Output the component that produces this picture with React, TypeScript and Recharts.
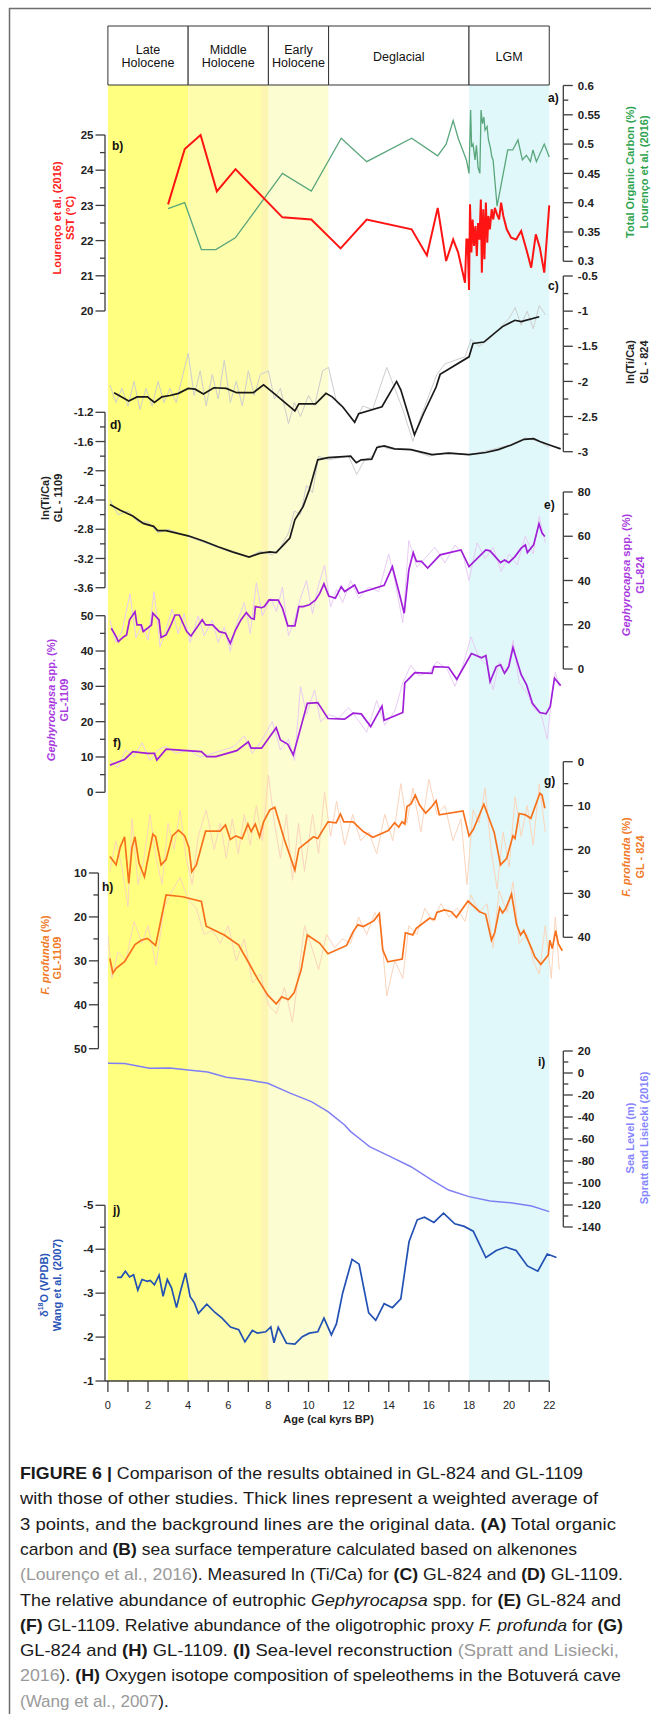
import React from 'react';
import { ComposedChart, Line, XAxis, YAxis, ReferenceArea, ReferenceLine } from 'recharts';

type Pt = [number, number];

// ---------- data: [age (cal kyr BP), value] ----------
const toc: Pt[] = [
  [3.0, 0.39], [3.83, 0.4], [4.66, 0.32], [5.38, 0.32], [6.35, 0.34], [8.7, 0.45], [10.14, 0.42], [11.63, 0.51],
  [12.9, 0.47], [15.14, 0.51], [16.44, 0.48], [16.86, 0.5], [17.21, 0.54], [17.46, 0.51], [17.87, 0.473], [18.0, 0.45],
  [18.08, 0.558], [18.13, 0.495], [18.2, 0.5], [18.3, 0.473], [18.37, 0.498], [18.45, 0.46], [18.54, 0.45], [18.6, 0.558],
  [18.67, 0.535], [18.74, 0.546], [18.8, 0.524], [18.9, 0.53], [18.97, 0.507], [19.06, 0.495], [19.14, 0.478], [19.2, 0.473],
  [19.4, 0.394], [19.93, 0.49], [20.18, 0.49], [20.44, 0.507], [20.66, 0.473], [20.86, 0.481], [21.06, 0.47], [21.19, 0.49],
  [21.36, 0.47], [21.75, 0.5], [22.0, 0.478],
];
const sst: Pt[] = [
  [3.0, 23.03], [3.83, 24.6], [4.62, 25.0], [5.43, 23.4], [6.36, 24.03], [8.7, 22.66], [10.14, 22.6], [11.6, 21.78],
  [12.9, 22.6], [15.14, 22.32], [15.9, 21.58], [16.44, 22.93], [16.86, 21.42], [17.21, 22.03], [17.46, 21.66], [17.8, 20.8],
  [17.87, 22.03], [17.93, 22.03], [18.0, 20.6], [18.05, 23.03], [18.12, 21.66], [18.18, 22.6], [18.25, 21.85], [18.32, 22.41],
  [18.39, 21.56], [18.45, 22.5], [18.52, 22.03], [18.59, 23.17], [18.64, 21.09], [18.71, 22.89], [18.77, 21.47], [18.84, 23.08],
  [18.91, 21.94], [18.97, 22.7], [19.04, 22.32], [19.13, 22.89], [19.21, 22.6], [19.29, 22.93], [19.4, 22.74], [19.5, 22.6],
  [19.6, 23.08], [19.71, 22.7], [19.88, 22.32], [20.1, 22.08], [20.35, 22.03], [20.6, 22.27], [20.86, 21.75], [21.1, 21.23],
  [21.33, 22.18], [21.53, 21.8], [21.75, 21.09], [22.0, 23.0],
];
const tiCa824: Pt[] = [
  [0.31, -2.16], [1.04, -2.28], [1.45, -2.22], [1.97, -2.22], [2.32, -2.3], [2.69, -2.22], [3.1, -2.2], [3.52, -2.17],
  [4.0, -2.1], [4.35, -2.11], [4.76, -2.18], [5.28, -2.09], [5.9, -2.1], [6.42, -2.16], [7.25, -2.16], [7.76, -2.05],
  [8.28, -2.17], [9.32, -2.42], [9.52, -2.32], [10.35, -2.32], [10.87, -2.17], [11.18, -2.22], [11.7, -2.36], [12.3, -2.58],
  [12.5, -2.46], [13.66, -2.36], [14.39, -2.0], [14.6, -2.12], [15.28, -2.76], [15.73, -2.46], [16.36, -2.08], [16.56, -1.9],
  [18.0, -1.65], [18.2, -1.46], [18.74, -1.44], [19.67, -1.22], [20.29, -1.13], [20.6, -1.15], [21.5, -1.08],
];
const tiCa824Raw: Pt[] = [
  [0.1, -2.05], [0.4, -2.3], [0.7, -2.1], [1.0, -2.35], [1.3, -2.0], [1.6, -2.4], [1.9, -2.1], [2.2, -2.35], [2.5, -2.0],
  [2.8, -2.3], [3.1, -2.1], [3.4, -2.3], [3.7, -1.95], [4.0, -1.6], [4.3, -2.2], [4.6, -1.85], [4.9, -2.35], [5.2, -1.9],
  [5.5, -2.25], [5.8, -1.7], [6.1, -2.3], [6.4, -2.0], [6.7, -2.35], [7.0, -1.85], [7.3, -2.2], [7.6, -1.9], [8.0, -1.85],
  [8.3, -2.25], [8.6, -2.1], [9.0, -2.6], [9.3, -2.3], [9.6, -2.5], [10.0, -2.2], [10.3, -2.35], [10.7, -1.85], [11.0, -1.8],
  [11.4, -2.3], [11.8, -2.4], [12.3, -2.6], [12.7, -2.35], [13.2, -2.4], [13.6, -2.05], [13.9, -1.8], [14.3, -2.1],
  [14.7, -2.4], [15.2, -2.85], [15.6, -2.5], [16.0, -2.2], [16.4, -1.9], [16.8, -1.75], [17.3, -1.7], [17.8, -1.65],
  [18.1, -1.4], [18.5, -1.5], [19.0, -1.4], [19.5, -1.25], [20.0, -1.1], [20.3, -0.95], [20.6, -1.2], [20.9, -1.0],
  [21.2, -1.25], [21.5, -0.92], [21.8, -1.05],
];
const tiCa1109: Pt[] = [
  [0.1, -2.46], [0.62, -2.54], [1.24, -2.62], [1.76, -2.72], [2.28, -2.76], [2.48, -2.82], [2.9, -2.82], [4.0, -2.89],
  [4.76, -2.96], [5.49, -3.04], [6.21, -3.11], [7.04, -3.18], [7.56, -3.13], [8.07, -3.11], [8.39, -3.12], [8.8, -3.0],
  [9.07, -2.92], [9.32, -2.67], [9.73, -2.49], [10.04, -2.26], [10.46, -1.85], [10.97, -1.82], [12.1, -1.8], [12.38, -1.89],
  [12.63, -1.85], [13.15, -1.84], [13.41, -1.68], [13.77, -1.66], [14.29, -1.7], [15.11, -1.71], [16.15, -1.78],
  [16.98, -1.76], [18.0, -1.78], [18.84, -1.75], [19.46, -1.71], [20.08, -1.65], [20.75, -1.57], [21.22, -1.56],
  [21.53, -1.6], [22.05, -1.65], [22.57, -1.7],
];
const tiCa1109Raw: Pt[] = [
  [0.1, -2.4], [0.5, -2.6], [1.0, -2.55], [1.5, -2.7], [2.0, -2.7], [2.5, -2.85], [3.0, -2.8], [4.0, -2.9], [5.0, -3.0],
  [6.0, -3.1], [7.0, -3.18], [7.6, -3.1], [8.2, -3.15], [8.6, -3.05], [9.0, -2.85], [9.3, -2.55], [9.6, -2.6], [9.9, -2.2],
  [10.2, -2.3], [10.5, -1.8], [11.0, -1.85], [12.0, -1.8], [12.4, -2.05], [12.8, -1.85], [13.2, -1.8], [13.5, -1.65],
  [14.0, -1.7], [15.0, -1.7], [16.0, -1.8], [17.0, -1.75], [18.0, -1.78], [19.0, -1.72], [20.0, -1.65], [20.8, -1.55],
  [21.5, -1.6], [22.0, -1.68],
];
const geph824: Pt[] = [
  [0.17, 18.4], [0.41, 14.6], [0.52, 12.4], [0.79, 14.6], [0.93, 15.4], [1.08, 22.2], [1.35, 25.9], [1.45, 19.9],
  [1.66, 19.9], [1.76, 16.9], [1.97, 18.4], [2.17, 19.9], [2.24, 25.2], [2.55, 22.2], [2.65, 14.3], [2.9, 15.4], [3.1, 19.1],
  [3.35, 24.4], [3.56, 24.4], [3.93, 16.9], [4.14, 14.9], [4.35, 17.6], [4.7, 22.2], [4.87, 19.9], [5.22, 19.9], [5.55, 16.9],
  [5.86, 16.2], [6.1, 11.6], [6.36, 17.6], [6.63, 22.2], [6.9, 25.5], [7.14, 22.9], [7.29, 22.5], [7.35, 28.2], [7.66, 27.7],
  [7.8, 28.2], [8.03, 31.2], [8.49, 31.1], [8.7, 27.5], [8.97, 19.5], [9.32, 19.5], [9.52, 28.2], [9.73, 28.2], [10.04, 29],
  [10.35, 31.2], [10.56, 34.2], [10.77, 38.5], [11.01, 33], [11.34, 32], [11.63, 37.2], [11.8, 35], [12.3, 38], [12.5, 34.2],
  [13.77, 37.8], [14.18, 46.3], [14.5, 35], [14.77, 25.2], [15.0, 44.8], [15.22, 52.6], [15.38, 48.6], [15.63, 48.6],
  [15.94, 45.6], [16.56, 51.6], [17.6, 53.8], [18.0, 46.3], [18.84, 53.8], [19.05, 53.4], [19.57, 48.1], [19.77, 49.3],
  [19.98, 48.1], [20.29, 50.8], [20.6, 54.6], [20.81, 56.1], [20.91, 52.6], [21.22, 56.1], [21.49, 65.6], [21.64, 61.4],
  [21.78, 59.9],
];
const geph824Raw: Pt[] = [
  [0.1, 22], [0.4, 12], [0.7, 17], [1.1, 34], [1.4, 14], [1.7, 20], [2.0, 13], [2.3, 35], [2.6, 10], [2.9, 18], [3.2, 27],
  [3.5, 16], [3.8, 25], [4.1, 12], [4.5, 24], [4.8, 15], [5.2, 22], [5.5, 12], [5.8, 19], [6.1, 8], [6.4, 20], [6.8, 30],
  [7.1, 16], [7.4, 39], [7.7, 24], [8.1, 32], [8.4, 26], [8.7, 37], [9.0, 15], [9.3, 22], [9.6, 32], [9.9, 40], [10.2, 25],
  [10.5, 38], [10.8, 47], [11.1, 28], [11.4, 36], [11.7, 30], [12.1, 40], [12.5, 32], [13.0, 37], [13.5, 35], [14.0, 52],
  [14.3, 40], [14.7, 21], [15.0, 58], [15.4, 46], [15.8, 50], [16.3, 55], [16.8, 48], [17.3, 56], [17.7, 52], [18.0, 40],
  [18.4, 57], [18.8, 50], [19.2, 55], [19.6, 44], [20.0, 52], [20.4, 47], [20.8, 60], [21.2, 52], [21.5, 69], [21.8, 57],
];
const geph1109: Pt[] = [
  [0.1, 7.7], [0.83, 9.3], [1.24, 11.5], [1.97, 11.0], [2.32, 11.0], [2.44, 9.1], [2.9, 12.2], [3.93, 11.8], [4.66, 11.5],
  [4.93, 10.1], [5.38, 10.1], [6.42, 11.8], [7.0, 14.3], [7.14, 12.5], [7.66, 12.5], [8.39, 18.3], [8.6, 14.8], [8.97, 13.6],
  [9.24, 10.6], [9.52, 16.4], [9.94, 25.2], [10.46, 25.4], [10.97, 20.9], [11.8, 20.7], [12.22, 22.4], [12.63, 22.2],
  [13.1, 18.6], [13.66, 24.4], [13.77, 20.4], [14.7, 22.6], [14.8, 31], [15.3, 33.9], [16.15, 33.7], [16.25, 35.6],
  [16.98, 35.4], [17.39, 32], [18.12, 39.3], [18.63, 38.1], [18.84, 38.7], [19.05, 31.3], [19.36, 35.6], [19.57, 36.1],
  [19.77, 33.7], [19.98, 35.6], [20.19, 41], [20.6, 33.3], [20.87, 30.4], [21.16, 25.2], [21.53, 22.6], [21.84, 22.2],
  [22.05, 24.3], [22.26, 32.3], [22.57, 30.2],
];
const geph1109Raw: Pt[] = [
  [0.1, 9], [0.5, 7], [0.9, 12], [1.3, 10], [1.7, 14], [2.1, 9], [2.5, 12], [2.9, 13], [3.4, 11], [4.0, 12], [4.6, 10],
  [5.2, 11], [5.8, 12], [6.3, 13], [6.8, 16], [7.2, 11], [7.7, 15], [8.2, 20], [8.6, 12], [9.0, 15], [9.3, 9], [9.6, 30],
  [9.9, 22], [10.3, 29], [10.6, 20], [11.0, 22], [11.5, 21], [12.0, 24], [12.4, 21], [12.9, 17], [13.4, 26], [13.8, 19],
  [14.3, 23], [14.7, 31], [15.1, 36], [15.5, 33], [16.0, 34], [16.4, 37], [16.9, 35], [17.3, 30], [17.7, 36], [18.1, 44],
  [18.5, 38], [18.9, 36], [19.2, 29], [19.5, 37], [19.9, 34], [20.2, 43], [20.5, 31], [20.9, 28], [21.2, 24], [21.6, 22],
  [21.9, 15], [22.1, 26], [22.3, 34], [22.5, 30],
];
const prof824: Pt[] = [
  [0.1, 21.6], [0.41, 23.5], [0.62, 19.4], [0.83, 17.1], [1.04, 27.7], [1.2, 19.6], [1.35, 17.1], [1.55, 23.1], [1.82, 26.2],
  [2.24, 16.5], [2.38, 17.1], [2.65, 23.5], [2.9, 22.3], [3.21, 16.9], [3.52, 15.6], [3.83, 16.9], [4.04, 19.6], [4.18, 25.1],
  [4.41, 23.5], [4.87, 15.8], [5.59, 15.8], [5.86, 14.4], [6.1, 17.7], [6.38, 16.9], [6.69, 17.5], [6.98, 14.2], [7.14, 15.9],
  [7.35, 14.2], [7.56, 17.1], [7.76, 13.7], [8.07, 11.0], [8.32, 10.4], [8.8, 17.8], [9.32, 24.7], [9.52, 19.8], [10.25, 17.1],
  [10.46, 17.5], [10.97, 13.7], [11.38, 13.9], [11.59, 11.9], [11.76, 13.7], [12.22, 13.7], [12.73, 15.9], [13.21, 17.2],
  [13.98, 15.7], [14.29, 13.9], [14.5, 14.9], [14.66, 13.7], [14.8, 14.2], [14.91, 10.2], [15.11, 9.6], [15.32, 7.6],
  [15.53, 9.8], [15.84, 11.7], [16.15, 10.2], [16.36, 8.9], [16.52, 12.1], [17.7, 11.2], [18.0, 16.9], [18.22, 15.4],
  [18.74, 9.7], [19.26, 16.2], [19.57, 23.5], [19.88, 22.0], [20.19, 16.9], [20.29, 17.5], [20.5, 11.8], [20.81, 12.1],
  [21.08, 12.9], [21.53, 7.2], [21.64, 7.6], [21.78, 10.6],
];
const prof824Raw: Pt[] = [
  [0.1, 25], [0.4, 18], [0.7, 24], [1.0, 33], [1.2, 13], [1.5, 28], [1.8, 22], [2.1, 12], [2.4, 22], [2.7, 28], [3.0, 14],
  [3.3, 20], [3.6, 11], [3.9, 22], [4.2, 28], [4.5, 17], [4.9, 11], [5.3, 20], [5.6, 14], [5.9, 22], [6.2, 13], [6.5, 21],
  [6.8, 12], [7.1, 19], [7.4, 10], [7.7, 18], [8.0, 3], [8.3, 14], [8.6, 22], [8.9, 12], [9.2, 27], [9.5, 14], [9.8, 25],
  [10.2, 12], [10.5, 21], [10.8, 7], [11.1, 17], [11.4, 9], [11.8, 19], [12.2, 12], [12.6, 18], [13.0, 16], [13.4, 21],
  [13.8, 12], [14.2, 18], [14.6, 5], [14.9, 14], [15.2, 6], [15.6, 16], [16.0, 4], [16.4, 12], [16.8, 10], [17.2, 18],
  [17.6, 13], [17.9, 28], [18.2, 11], [18.5, 14], [18.8, 6], [19.1, 20], [19.4, 29], [19.7, 16], [20.0, 24], [20.3, 8],
  [20.6, 17], [20.9, 10], [21.2, 19], [21.5, 5], [21.8, 16],
];
const prof1109: Pt[] = [
  [0.1, 29.5], [0.25, 32.8], [0.41, 31.7], [0.83, 30.2], [1.35, 26.3], [1.66, 25.3], [1.97, 24.9], [2.38, 26.5], [2.9, 15],
  [3.73, 15.4], [4.66, 16.5], [4.9, 22.1], [5.8, 24.1], [6.52, 26.4], [7.04, 30.6], [7.45, 34], [7.97, 37.8], [8.39, 39.8],
  [8.66, 38.2], [9.0, 38.8], [9.28, 37.3], [9.63, 32.1], [9.94, 24.1], [10.56, 26.0], [10.97, 28.4], [11.9, 26.5],
  [12.22, 23.4], [12.46, 21.8], [12.73, 22.2], [13.25, 20.9], [13.53, 19.2], [13.7, 27.5], [13.95, 30.2], [14.67, 29.6],
  [14.83, 23.6], [15.2, 24.1], [15.37, 22.6], [16.03, 20.3], [16.28, 20.6], [16.4, 19], [16.78, 18.4], [17.12, 18.8],
  [17.37, 20.1], [17.95, 16.4], [18.53, 18.8], [18.83, 19.4], [19.12, 25.3], [19.28, 23.6], [19.53, 17.9], [19.67, 19.1],
  [19.83, 18.1], [20.12, 14.8], [20.37, 21.7], [20.57, 24.1], [20.73, 23.1], [21.12, 27.2], [21.28, 29.1], [21.58, 30.8],
  [21.95, 28.7], [22.03, 25.3], [22.15, 27.2], [22.32, 23.1], [22.45, 26.1], [22.65, 27.7],
];
const prof1109Raw: Pt[] = [
  [0.0, 24], [0.2, 34], [0.5, 28], [0.9, 30], [1.3, 21], [1.7, 26], [2.0, 22], [2.4, 31], [2.8, 18], [3.2, 14], [3.6, 11],
  [4.0, 16], [4.4, 18], [4.8, 24], [5.2, 23], [5.6, 26], [6.0, 22], [6.4, 30], [6.8, 25], [7.2, 35], [7.6, 33], [8.0, 40],
  [8.4, 42], [8.8, 36], [9.2, 44], [9.5, 33], [9.8, 22], [10.1, 26], [10.5, 32], [10.9, 24], [11.3, 27], [11.7, 25],
  [12.1, 26], [12.5, 20], [12.9, 24], [13.3, 19], [13.6, 22], [13.9, 38], [14.3, 30], [14.7, 34], [15.0, 22], [15.4, 24],
  [15.8, 18], [16.2, 21], [16.6, 17], [17.0, 20], [17.4, 18], [17.8, 21], [18.1, 15], [18.5, 19], [18.9, 17], [19.2, 27],
  [19.5, 14], [19.9, 19], [20.2, 12], [20.5, 26], [20.9, 24], [21.2, 30], [21.5, 33], [21.8, 22], [22.1, 34], [22.3, 20],
  [22.5, 32],
];
const seaLevel: Pt[] = [
  [0, 8.8], [0.83, 8.6], [2.07, 4.3], [3.1, 4.5], [4.0, 2.7], [4.97, 0.9], [5.9, -3.9], [7.04, -6.4], [7.97, -9.4],
  [9.11, -18.5], [10.14, -26], [10.97, -35.2], [11.8, -47.3], [12.1, -53.3], [12.63, -60.9], [13.04, -67], [14.08, -76],
  [15.11, -85.2], [16.15, -97.3], [16.98, -106.4], [18.0, -112.4], [19.05, -116.4], [20.08, -118], [21.12, -121], [22.0, -126],
];
const d18O: Pt[] = [
  [0.46, -3.36], [0.66, -3.36], [0.87, -3.5], [1.08, -3.37], [1.28, -3.42], [1.49, -3.07], [1.7, -3.31], [1.97, -3.27],
  [2.11, -3.29], [2.32, -3.19], [2.55, -3.41], [2.75, -2.93], [2.96, -3.31], [3.17, -3.12], [3.42, -2.67], [3.62, -3.05],
  [3.87, -3.46], [4.1, -2.92], [4.31, -2.78], [4.51, -2.54], [4.93, -2.75], [5.34, -2.56], [5.69, -2.43], [6.11, -2.23],
  [6.52, -2.17], [6.83, -1.89], [7.2, -2.15], [7.45, -2.09], [7.87, -2.12], [8.12, -2.23], [8.28, -1.87], [8.49, -2.22],
  [8.9, -1.86], [9.32, -1.84], [9.69, -2.01], [10.04, -2.09], [10.46, -2.12], [10.77, -2.43], [11.14, -2.05], [11.39, -2.3],
  [11.7, -3.0], [12.17, -3.77], [12.52, -3.66], [13.0, -2.55], [13.35, -2.38], [13.77, -2.76], [14.18, -2.67], [14.6, -2.87],
  [15.01, -4.17], [15.42, -4.67], [15.78, -4.73], [16.25, -4.61], [16.73, -4.82], [17.29, -4.58], [17.76, -4.52],
  [18.21, -4.41], [18.84, -3.81], [19.36, -3.97], [19.83, -4.05], [20.35, -3.97], [20.91, -3.62], [21.43, -3.5],
  [21.9, -3.89], [22.36, -3.81],
];

const periodNames = [['Late', 'Holocene'], ['Middle', 'Holocene'], ['Early', 'Holocene'], ['Deglacial'], ['LGM']];
const periodEdges = [0, 4, 8, 11, 18, 22];
const xTicks = [0, 1, 2, 3, 4, 5, 6, 7, 8, 9, 10, 11, 12, 13, 14, 15, 16, 17, 18, 19, 20, 21, 22];

const tocTicks = [0.3, 0.325, 0.35, 0.375, 0.4, 0.425, 0.45, 0.475, 0.5, 0.525, 0.55, 0.575, 0.6];
const tocMajor = [0.3, 0.35, 0.4, 0.45, 0.5, 0.55, 0.6];
const sstTicks = [20, 20.5, 21, 21.5, 22, 22.5, 23, 23.5, 24, 24.5, 25];
const sstMajor = [20, 21, 22, 23, 24, 25];
const ti824Ticks = [-3, -2.75, -2.5, -2.25, -2, -1.75, -1.5, -1.25, -1, -0.75, -0.5];
const ti824Major = [-3, -2.5, -2, -1.5, -1, -0.5];
const ti1109Ticks = [-3.6, -3.4, -3.2, -3, -2.8, -2.6, -2.4, -2.2, -2, -1.8, -1.6, -1.4, -1.2];
const ti1109Major = [-3.6, -3.2, -2.8, -2.4, -2, -1.6, -1.2];
const geph824Ticks = [0, 10, 20, 30, 40, 50, 60, 70, 80];
const geph824Major = [0, 20, 40, 60, 80];
const geph1109Ticks = [0, 5, 10, 15, 20, 25, 30, 35, 40, 45, 50];
const geph1109Major = [0, 10, 20, 30, 40, 50];
const prof824Ticks = [0, 5, 10, 15, 20, 25, 30, 35, 40];
const prof824Major = [0, 10, 20, 30, 40];
const prof1109Ticks = [10, 15, 20, 25, 30, 35, 40, 45, 50];
const prof1109Major = [10, 20, 30, 40, 50];
const seaTicks = [-140, -130, -120, -110, -100, -90, -80, -70, -60, -50, -40, -30, -20, -10, 0, 10, 20];
const seaMajor = [-140, -120, -100, -80, -60, -40, -20, 0, 20];
const d18OTicks = [-5, -4.5, -4, -3.5, -3, -2.5, -2, -1.5, -1];
const d18OMajor = [-5, -4, -3, -2, -1];

// ---------- layout ----------
const FONT = '"Liberation Sans", Arial, Helvetica, sans-serif';
const AXIS = '#3c3c3c';
const W = 651;
const H = 1430;
const TOP = 26;
const BOTTOM = 1381;
const PLOT_L = 107.9;
const PLOT_R = 563.3;
const XMAX = 22.7;
const AXW = 0.001;
const PXK = (PLOT_R - PLOT_L) / XMAX;
const kx = (px: number) => (px - PLOT_L) / PXK;
const LEFT_PX = 105;
const LEFT_PX_H = 98.4;

const pts = (a: Pt[]) => a.map(([x, v]) => ({ x, v }));

// domain that puts value v1 at pixel p1 and v2 at p2 over the full plot height
function calDomain(v1: number, p1: number, v2: number, p2: number) {
  const s = (p2 - p1) / (v2 - v1);
  const vTop = v1 + (TOP - p1) / s;
  const vBot = v1 + (BOTTOM - p1) / s;
  return vTop > vBot
    ? { domain: [vBot, vTop], reversed: false }
    : { domain: [vTop, vBot], reversed: true };
}

const fmt = (v: number) => String(Math.round(v * 1000) / 1000);

function makeYTick(side: string, major: number[], dx: number) {
  return (props: any) => {
    const { y, payload } = props;
    const x = props.x + dx;
    const v = payload.value;
    const isMajor = major.some((m) => Math.abs(m - v) < 1e-6);
    const dir = side === 'left' ? -1 : 1;
    const len = isMajor ? 9.5 : 5;
    return (
      <g>
        <line x1={x} x2={x + dir * len} y1={y} y2={y} stroke={AXIS} strokeWidth={1.3} />
        {isMajor && (
          <text
            x={x + dir * (len + (side === 'left' ? 2 : 5))}
            y={y}
            dy="0.36em"
            textAnchor={side === 'left' ? 'end' : 'start'}
            fontFamily={FONT}
            fontSize={11.5}
            fontWeight={700}
            fill="#222"
          >
            {fmt(v)}
          </text>
        )}
      </g>
    );
  };
}

const renderXTick = (props: any) => {
  const { x, y, payload } = props;
  const v = payload.value;
  return (
    <g>
      <line x1={x} x2={x} y1={y} y2={y + 11} stroke={AXIS} strokeWidth={1.3} />
      {v % 2 === 0 && (
        <text x={x} y={y + 28} textAnchor="middle" fontFamily={FONT} fontSize={11} fill="#222">
          {v}
        </text>
      )}
    </g>
  );
};

const headerLabel = (lines: string[]) => (props: any) => {
  const { x, y, width, height } = props.viewBox;
  const cx = x + width / 2;
  const cy = y + height / 2 + 1;
  const lh = 13.5;
  return (
    <text x={cx} y={cy - ((lines.length - 1) * lh) / 2} textAnchor="middle" dominantBaseline="central"
      fontFamily={FONT} fontSize={12.5} fill="#111">
      {lines.map((l, i) => (
        <tspan key={i} x={cx} dy={i === 0 ? 0 : lh}>{l}</tspan>
      ))}
    </text>
  );
};

const axesCfg = [
  { id: 'b', side: 'left', cal: [25, 135, 20, 311], ticks: sstTicks, major: sstMajor, line: [20, 25] },
  { id: 'd', side: 'left', cal: [-1.2, 412.3, -3.6, 587.7], ticks: ti1109Ticks, major: ti1109Major, line: [-3.6, -1.2] },
  { id: 'f', side: 'left', cal: [50, 615.7, 0, 792.3], ticks: geph1109Ticks, major: geph1109Major, line: [0, 50] },
  { id: 'h', side: 'left', cal: [10, 873, 50, 1048.7], ticks: prof1109Ticks, major: prof1109Major, line: [10, 50] },
  { id: 'j', side: 'left', cal: [-5, 1205.3, -1, 1381], ticks: d18OTicks, major: d18OMajor, line: [-5, -1] },
  { id: 'a', side: 'right', cal: [0.6, 85.5, 0.3, 261.3], ticks: tocTicks, major: tocMajor, line: [0.3, 0.6] },
  { id: 'c', side: 'right', cal: [-0.5, 276, -3, 451.7], ticks: ti824Ticks, major: ti824Major, line: [-3, -0.5] },
  { id: 'e', side: 'right', cal: [80, 492, 0, 669], ticks: geph824Ticks, major: geph824Major, line: [0, 80] },
  { id: 'g', side: 'right', cal: [0, 761.7, 40, 937.3], ticks: prof824Ticks, major: prof824Major, line: [0, 40] },
  { id: 'i', side: 'right', cal: [20, 1051, -140, 1227], ticks: seaTicks, major: seaMajor, line: [-140, 20] },
];

const axisPx = (c: any) => (c.side === 'right' ? PLOT_R : c.id === 'h' ? LEFT_PX_H : LEFT_PX);

function axis(c: any) {
  const { domain, reversed } = calDomain(c.cal[0], c.cal[1], c.cal[2], c.cal[3]);
  const edge = c.side === 'right' ? PLOT_R : PLOT_L;
  return (
    <YAxis
      key={c.id}
      yAxisId={c.id}
      orientation={c.side}
      width={AXW}
      type="number"
      domain={domain as any}
      reversed={reversed}
      allowDataOverflow
      ticks={c.ticks}
      interval={0}
      tickLine={false}
      axisLine={false}
      tickSize={0}
      tickMargin={0}
      tick={makeYTick(c.side, c.major, axisPx(c) - edge)}
    />
  );
}

function axisLine(c: any) {
  const x = kx(axisPx(c));
  return (
    <ReferenceLine
      key={'al' + c.id}
      yAxisId={c.id}
      ifOverflow="visible"
      segment={[{ x, y: c.line[0] }, { x, y: c.line[1] }]}
      stroke={AXIS}
      strokeWidth={1.3}
    />
  );
}

const bandFills = ['#ffff80', '#fdfdab', '#fdfdd2', '#ffffff', '#e0f8f9'];

const line = (id: string, data: Pt[], color: string, w: number, key: string) => (
  <Line key={key} yAxisId={id} data={pts(data)} dataKey="v" type="linear" stroke={color} strokeWidth={w}
    dot={false} activeDot={false} isAnimationActive={false} />
);

// ---------- overlay text ----------
const VText = ({ x, y, color, children }: any) => (
  <text transform={`translate(${x},${y}) rotate(-90)`} textAnchor="middle" dominantBaseline="central"
    fill={color} fontFamily={FONT} fontSize={11} fontWeight={700}>
    {children}
  </text>
);

const GREEN_T = '#2ea34f';
const RED_T = '#ff2020';
const DARK_T = '#222';
const PURPLE_T = '#a83ae0';
const ORANGE_T = '#f07a28';
const SEA_T = '#8585ff';
const BLUE_T = '#2b55b8';

const letters: [string, number, number][] = [
  ['a)', 548, 102], ['b)', 112, 150], ['c)', 548, 290], ['d)', 110, 429], ['e)', 544, 509],
  ['f)', 113, 747], ['g)', 544, 785], ['h)', 102, 891], ['i)', 538, 1066], ['j)', 113, 1214],
];

const caption: [string, string][][] = [
  [['b', 'FIGURE 6 | '], ['n', 'Comparison of the results obtained in GL-824 and GL-1109']],
  [['n', 'with those of other studies. Thick lines represent a weighted average of']],
  [['n', '3 points, and the background lines are the original data. '], ['b', '(A)'], ['n', ' Total organic']],
  [['n', 'carbon and '], ['b', '(B)'], ['n', ' sea surface temperature calculated based on alkenones']],
  [['g', '(Lourenço et al., 2016'], ['n', '). Measured ln (Ti/Ca) for '], ['b', '(C)'], ['n', ' GL-824 and '], ['b', '(D)'], ['n', ' GL-1109.']],
  [['n', 'The relative abundance of eutrophic '], ['i', 'Gephyrocapsa'], ['n', ' spp. for '], ['b', '(E)'], ['n', ' GL-824 and']],
  [['b', '(F)'], ['n', ' GL-1109. Relative abundance of the oligotrophic proxy '], ['i', 'F. profunda'], ['n', ' for '], ['b', '(G)']],
  [['n', 'GL-824 and '], ['b', '(H)'], ['n', ' GL-1109. '], ['b', '(I)'], ['n', ' Sea-level reconstruction '], ['g', '(Spratt and Lisiecki,']],
  [['g', '2016'], ['n', '). '], ['b', '(H)'], ['n', ' Oxygen isotope composition of speleothems in the Botuverá cave']],
  [['g', '(Wang et al., 2007'], ['n', ').']],
];
const captionWidths = [563, 578, 596, 557, 603, 601, 603, 599, 601, 0];

function Overlay() {
  return (
    <svg width={W} height={1714} style={{ position: 'absolute', left: 0, top: 0, pointerEvents: 'none' }}>
      <line x1={9.5} y1={8} x2={9.5} y2={1714} stroke="#6e6e6e" strokeWidth={1.5} />
      <line x1={9} y1={8.5} x2={W} y2={8.5} stroke="#6e6e6e" strokeWidth={1.5} />

      <VText x={57} y={218} color={RED_T}>Lourenço et al. (2016)</VText>
      <VText x={70} y={218} color={RED_T}>SST (°C)</VText>
      <VText x={630} y={172} color={GREEN_T}>Total Organic Carbon (%)</VText>
      <VText x={644} y={172} color={GREEN_T}>Lourenço et al. (2016)</VText>
      <VText x={630} y={362} color={DARK_T}>ln(Ti/Ca)</VText>
      <VText x={644} y={362} color={DARK_T}>GL - 824</VText>
      <VText x={45} y={498} color={DARK_T}>ln(Ti/Ca)</VText>
      <VText x={58} y={498} color={DARK_T}>GL - 1109</VText>
      <VText x={626} y={575} color={PURPLE_T}><tspan fontStyle="italic">Gephyrocapsa</tspan> spp. (%)</VText>
      <VText x={640} y={575} color={PURPLE_T}>GL-824</VText>
      <VText x={51} y={700} color={PURPLE_T}><tspan fontStyle="italic">Gephyrocapsa</tspan> spp. (%)</VText>
      <VText x={64} y={700} color={PURPLE_T}>GL-1109</VText>
      <VText x={626} y={857} color={ORANGE_T}><tspan fontStyle="italic">F. profunda</tspan> (%)</VText>
      <VText x={640} y={857} color={ORANGE_T}>GL - 824</VText>
      <VText x={45} y={955} color={ORANGE_T}><tspan fontStyle="italic">F. profunda</tspan> (%)</VText>
      <VText x={57} y={958} color={ORANGE_T}>GL-1109</VText>
      <VText x={630} y={1138} color={SEA_T}>Sea Level (m)</VText>
      <VText x={644} y={1138} color={SEA_T}>Spratt and Lisiecki (2016)</VText>
      <VText x={44} y={1285} color={BLUE_T}>δ<tspan fontSize={7} dy={-4}>18</tspan><tspan dy={4}>O (VPDB)</tspan></VText>
      <VText x={57} y={1285} color={BLUE_T}>Wang et al. (2007)</VText>

      {letters.map(([t, x, y]) => (
        <text key={t} x={x} y={y} fontFamily={FONT} fontSize={12} fontWeight={700} fill="#111">{t}</text>
      ))}

      <text x={PLOT_L + 11 * PXK} y={1423} textAnchor="middle" fontFamily={FONT} fontSize={11} fontWeight={700} fill="#222">
        Age (cal kyrs BP)
      </text>

      {caption.map((runs, i) => (
        <text
          key={i}
          x={20}
          y={1479 + i * 25.3}
          fontFamily={FONT}
          fontSize={17}
          fill="#1a1a1a"
          {...(captionWidths[i] ? { textLength: captionWidths[i], lengthAdjust: 'spacingAndGlyphs' } : {})}
        >
          {runs.map(([k, s], j) => (
            <tspan
              key={j}
              fontWeight={k === 'b' ? 700 : 400}
              fontStyle={k === 'i' ? 'italic' : 'normal'}
              fill={k === 'g' ? '#9a9a9a' : '#1a1a1a'}
            >
              {s}
            </tspan>
          ))}
        </text>
      ))}
    </svg>
  );
}

export default function App() {
  return (
    <div style={{ position: 'relative', width: W, height: 1714, background: '#fff', overflow: 'hidden' }}>
      <style>{'body{margin:0}'}</style>
      <div style={{ position: 'absolute', left: 0, top: 0 }}>
        <ComposedChart
          width={W}
          height={H}
          margin={{ top: TOP, right: W - PLOT_R - 5 * AXW, bottom: H - BOTTOM - 30, left: PLOT_L - 6 * AXW }}
        >
          <XAxis
            type="number"
            dataKey="x"
            domain={[0, XMAX]}
            allowDataOverflow
            ticks={xTicks}
            interval={0}
            tickLine={false}
            axisLine={false}
            tickSize={0}
            tickMargin={0}
            height={30}
            tick={renderXTick}
          />
          <YAxis yAxisId="frame" orientation="left" width={AXW} type="number" domain={[0, BOTTOM - TOP]} reversed
            allowDataOverflow tick={false} tickLine={false} axisLine={false} />
          {axesCfg.map((c) => axis(c))}

          {periodNames.map((n, i) => (
            <ReferenceArea key={'band' + i} yAxisId="frame" x1={periodEdges[i]} x2={periodEdges[i + 1]} y1={59} y2={BOTTOM - TOP}
              fill={bandFills[i]} fillOpacity={1} stroke="none" ifOverflow="visible" />
          ))}
          <ReferenceArea yAxisId="frame" x1={7.65} x2={8} y1={59} y2={BOTTOM - TOP} fill="#fdf6b2" fillOpacity={1} stroke="none" />
          {periodNames.map((n, i) => (
            <ReferenceArea key={'hdr' + i} yAxisId="frame" x1={periodEdges[i]} x2={periodEdges[i + 1]} y1={0} y2={59}
              fill="#ffffff" fillOpacity={1} stroke="#333" strokeWidth={1} ifOverflow="visible" label={headerLabel(n)} />
          ))}

          {axesCfg.map((c) => axisLine(c))}
          <ReferenceLine yAxisId="j" ifOverflow="visible" segment={[{ x: kx(LEFT_PX), y: -1 }, { x: 22, y: -1 }]}
            stroke={AXIS} strokeWidth={1.3} />

          {line('c', tiCa824Raw, '#cdcdcd', 1, 'cr')}
          {line('d', tiCa1109Raw, '#cdcdcd', 1, 'dr')}
          {line('e', geph824Raw, '#e8ccf3', 1, 'er')}
          {line('f', geph1109Raw, '#e8ccf3', 1, 'fr')}
          {line('g', prof824Raw, '#fbd5bc', 1, 'gr')}
          {line('h', prof1109Raw, '#fbd5bc', 1, 'hr')}

          {line('a', toc, '#5aa67c', 1.3, 'a')}
          {line('b', sst, '#ff1414', 2, 'b')}
          {line('c', tiCa824, '#1a1a1a', 1.7, 'c')}
          {line('d', tiCa1109, '#1a1a1a', 1.7, 'd')}
          {line('e', geph824, '#a01fd8', 1.7, 'e')}
          {line('f', geph1109, '#a01fd8', 1.7, 'f')}
          {line('g', prof824, '#f7711c', 1.7, 'g')}
          {line('h', prof1109, '#f7711c', 1.7, 'h')}
          {line('i', seaLevel, '#7f7ff5', 1.5, 'i')}
          {line('j', d18O, '#2251b3', 1.7, 'j')}
        </ComposedChart>
      </div>
      <Overlay />
    </div>
  );
}
